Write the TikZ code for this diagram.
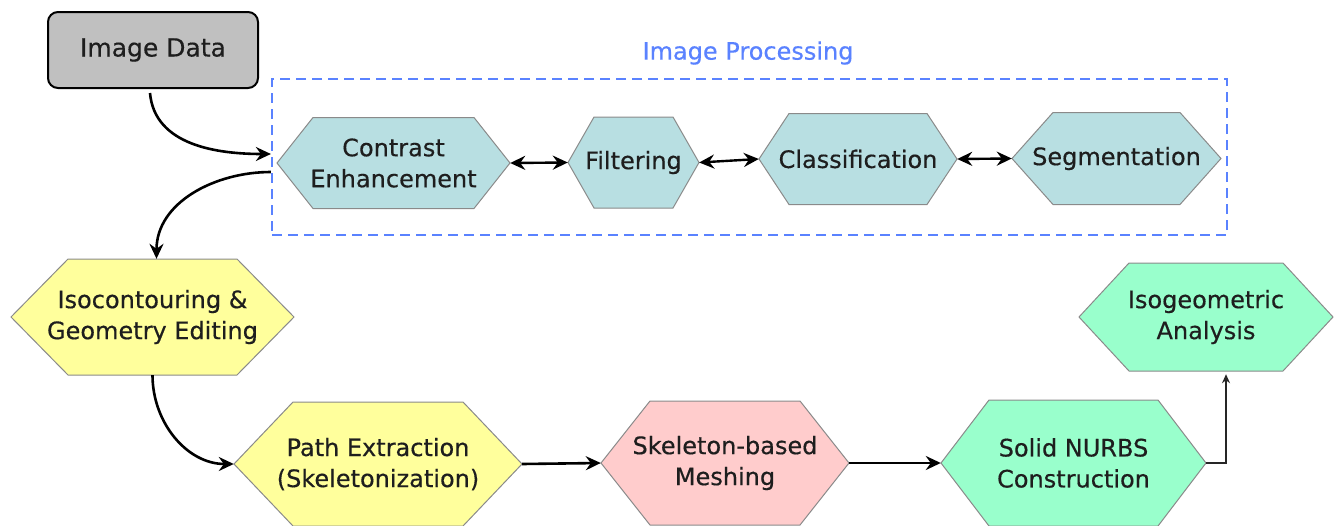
\documentclass[tikz,border=0pt]{standalone}
\usepackage{fontspec}
\setmainfont{DejaVu Sans}[FakeBold=0.4]
\usetikzlibrary{arrows.meta,calc}
\definecolor{cteal}{HTML}{B8DFE2}
\definecolor{cyel}{HTML}{FFFF9C}
\definecolor{cpink}{HTML}{FFCCCC}
\definecolor{cgreen}{HTML}{99FFCC}
\definecolor{cblue}{HTML}{5A82FF}
\definecolor{hexborder}{HTML}{8A8A8A}
\definecolor{imggray}{HTML}{C0C0C0}
\definecolor{txt}{HTML}{1E1E1E}
% #1 name, #2 cx, #3 cy, #4 W, #5 H, #6 inset, #7 fill, #8 text
\newcommand{\hexnode}[8]{%
  \filldraw[fill=#7,draw=hexborder,line width=1pt]
    (#2-#4/2,#3) -- (#2-#4/2+#6,#3+#5/2) -- (#2+#4/2-#6,#3+#5/2) --
    (#2+#4/2,#3) -- (#2+#4/2-#6,#3-#5/2) -- (#2-#4/2+#6,#3-#5/2) -- cycle;
  \node[hextext,minimum width=#4,minimum height=#5] (#1) at (#2,#3) {#8};
}
\begin{document}
\begin{tikzpicture}[x=1pt,y=1pt,
  hextext/.style={inner sep=0pt, align=center, font=\fontsize{24}{31}\selectfont, text=txt},
  arr/.style={line width=2.6pt, -{Stealth[length=15pt,width=14pt,inset=5pt]}},
  darr/.style={line width=2.4pt, {Stealth[length=15pt,width=14pt,inset=5pt]}-{Stealth[length=15pt,width=14pt,inset=5pt]}},
  imgbox/.style={draw=black, line width=2pt, fill=imggray, rounded corners=10pt,
    minimum width=210pt, minimum height=76pt, inner sep=0pt,
    font=\fontsize{25}{30}\selectfont, text=txt},
  ipframe/.style={draw=cblue, line width=2.2pt, dash pattern=on 10pt off 6pt,
    minimum width=955pt, minimum height=156pt, inner sep=0pt},
  iplabel/.style={font=\fontsize{24}{30}\selectfont, text=cblue, inner sep=0pt}
]
\useasboundingbox (0,0) rectangle (1339,-525);

\node[imgbox] (img) at (153,-50) {Image Data};
\node[iplabel] (ipl) at (748,-53) {Image Processing};
\node[ipframe] (ipbox) at (749.5,-157) {};

\hexnode{ce}{393.5}{-163}{233}{91}{36}{cteal}{Contrast\\Enhancement}
\hexnode{fi}{633.5}{-162.5}{131}{91}{26}{cteal}{Filtering}
\hexnode{cl}{858}{-159}{198}{91}{30}{cteal}{Classification}
\hexnode{se}{1116.5}{-158.5}{209}{92}{41}{cteal}{Segmentation}

\hexnode{iso}{152.5}{-317}{283}{116}{57}{cyel}{Isocontouring \&\\Geometry Editing}
\hexnode{pe}{378}{-464}{288}{124}{59}{cyel}{Path Extraction\\(Skeletonization)}
\hexnode{sk}{725}{-463}{248}{124}{49}{cpink}{Skeleton-based\\Meshing}
\hexnode{sn}{1073.5}{-463}{265}{126}{48}{cgreen}{Solid NURBS\\Construction}
\hexnode{ig}{1206}{-317}{254}{108}{50}{cgreen}{Isogeometric\\Analysis}

\coordinate (in1) at ($(ipbox.west)+(0,3)$);
\coordinate (out1) at ($(ipbox.west)+(0,-15)$);

\draw[arr] (img.south) ++(-3,-4) to[out=-85,in=180] (in1);
\draw[arr] (out1) to[out=180,in=90] ($(iso.north)+(4,0)$);
\draw[arr] (iso.south) to[out=-90,in=180] (pe.west);

\draw[darr] (ce.east) -- (fi.west);
\draw[darr] (fi.east) -- (cl.west);
\draw[darr] (cl.east) -- (se.west);

\draw[arr] (pe.east) -- (sk.west);
\draw[arr] (sk.east) -- (sn.west);
\draw[line width=2.6pt, draw=black!85, -{Stealth[length=9pt,width=8pt]}] (sn.east) -| ($(ig.south)+(20,-3)$);
\end{tikzpicture}
\end{document}
